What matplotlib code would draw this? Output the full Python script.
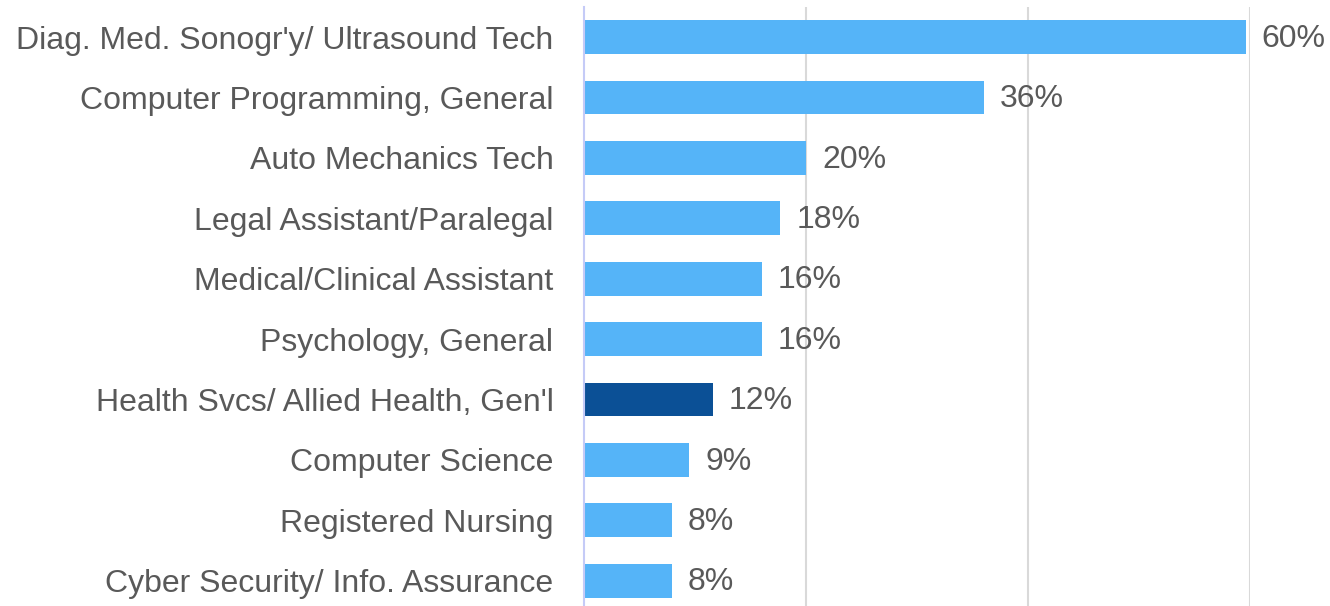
import matplotlib
matplotlib.use("Agg")
from matplotlib import pyplot as plt

# programs and share values (percent), top to bottom
programs = [
    "Diag. Med. Sonogr'y/ Ultrasound Tech",
    "Computer Programming, General",
    "Auto Mechanics Tech",
    "Legal Assistant/Paralegal",
    "Medical/Clinical Assistant",
    "Psychology, General",
    "Health Svcs/ Allied Health, Gen'l",
    "Computer Science",
    "Registered Nursing",
    "Cyber Security/ Info. Assurance",
]
values = [59.6, 36.0, 20.0, 17.7, 16.0, 16.0, 11.6, 9.5, 7.9, 7.9]
value_labels = ["60%", "36%", "20%", "18%", "16%", "16%", "12%", "9%", "8%", "8%"]
highlight = "Health Svcs/ Allied Health, Gen'l"

plt.rcParams['font.family'] = ['Liberation Sans', 'DejaVu Sans']
W, H = 1330, 606
fig = plt.figure(figsize=(W / 100, H / 100), dpi=100)
ax = fig.add_axes([584 / W, 0, (1250 - 584) / W, 1 - 7 / H])

light = '#55b4f8'
dark = '#0b5096'
colors = [dark if p == highlight else light for p in programs]
ypos = list(range(len(programs)))
ax.barh(ypos, values, height=0.56, color=colors, zorder=3)

for y, v, lab in zip(ypos, values, value_labels):
    ax.text(v + 1.45, y + 0.03, lab, va='center', ha='left', fontsize=23,
            color='#595959', clip_on=False)

ax.set_xlim(0, 60)
ax.set_ylim(9.42, -0.497)
ax.set_yticks(ypos)
ax.set_yticklabels(programs, fontsize=23, color='#595959')
ax.tick_params(axis='y', length=0, pad=22)
ax.set_xticks([])
for x in [20, 40, 60]:
    ax.axvline(x, color='#d9d9d9', lw=1.5, zorder=1)
for s in ['top', 'right', 'bottom']:
    ax.spines[s].set_visible(False)
ax.spines['left'].set_color('#c5cbf7')
ax.spines['left'].set_linewidth(1.5)
ax.spines['left'].set_zorder(4)

fig.savefig('out.png', dpi=100)
